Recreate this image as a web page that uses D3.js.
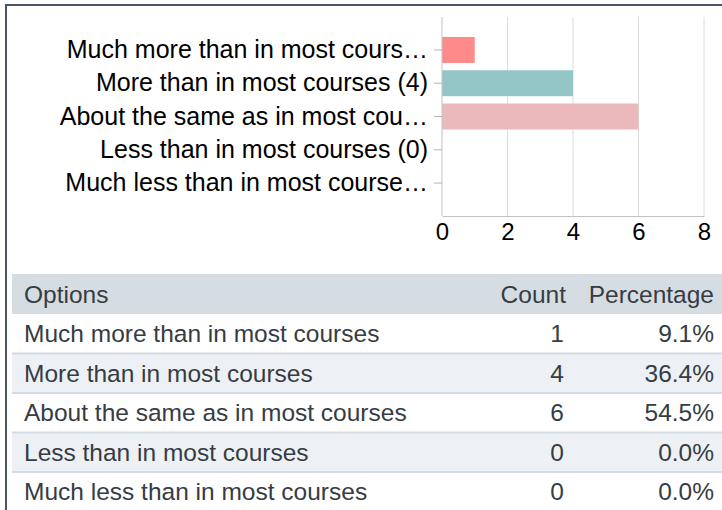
<!DOCTYPE html>
<html>
<head>
<meta charset="utf-8">
<script src="https://cdn.jsdelivr.net/npm/d3@7"></script>
<style>
  html, body { margin: 0; padding: 0; background: #fff; }
  svg { display: block; }
</style>
</head>
<body>
<svg id="chart" width="722" height="510"></svg>
<script>
// Survey responses: options, counts, percentages
const options = [
  "Much more than in most courses",
  "More than in most courses",
  "About the same as in most courses",
  "Less than in most courses",
  "Much less than in most courses"
];
const axisLabels = [
  "Much more than in most cours\u2026",
  "More than in most courses (4)",
  "About the same as in most cou\u2026",
  "Less than in most courses (0)",
  "Much less than in most course\u2026"
];
const counts = [1, 4, 6, 0, 0];
const percentages = ["9.1%", "36.4%", "54.5%", "0.0%", "0.0%"];
const barColors = ["#fe8a8a", "#95c6c7", "#ebb8bc", "#f5c26b", "#a3b8d9"];
const xTicks = [0, 2, 4, 6, 8];
const headers = ["Options", "Count", "Percentage"];

const svg = d3.select("#chart");
const font = "'Liberation Sans', Arial, sans-serif";

// Frame along the top and left edges
svg.append("line").attr("x1", 5).attr("x2", 722).attr("y1", 5).attr("y2", 5)
  .attr("stroke", "#4a5565").attr("stroke-width", 2);
svg.append("line").attr("x1", 6).attr("x2", 6).attr("y1", 4).attr("y2", 510)
  .attr("stroke", "#4a5565").attr("stroke-width", 2);

// Bar chart
const x = d3.scaleLinear().domain([0, 8]).range([442, 704]);
const y = d3.scaleBand().domain(d3.range(options.length)).range([17, 216])
  .paddingInner(0.22).paddingOuter(0.6);

const plotTop = 17, plotBottom = 216;

// vertical gridlines
svg.append("g").selectAll("line").data(xTicks.filter(t => t > 0)).join("line")
  .attr("x1", d => x(d)).attr("x2", d => x(d))
  .attr("y1", plotTop).attr("y2", plotBottom)
  .attr("stroke", "#dcdcdc").attr("stroke-width", 1);

// bars
svg.append("g").selectAll("rect").data(counts).join("rect")
  .attr("x", x(0))
  .attr("y", (d, i) => y(i))
  .attr("width", d => x(d) - x(0))
  .attr("height", y.bandwidth())
  .attr("fill", (d, i) => barColors[i]);

// category axis
const yAxis = d3.axisLeft(y).tickSize(8).tickPadding(6).tickFormat(i => axisLabels[i]);
const gy = svg.append("g").attr("transform", `translate(${x(0)},0)`).call(yAxis);
gy.select(".domain").remove();
gy.selectAll(".tick line").attr("stroke", "#b5b5b5");
gy.selectAll(".tick text")
  .attr("font-family", font)
  .attr("font-size", 25).attr("fill", "#000");

// value axis
const xAxis = d3.axisBottom(x).tickValues(xTicks).tickSize(0).tickPadding(7);
const gx = svg.append("g").attr("transform", `translate(0,${plotBottom})`).call(xAxis);
gx.select(".domain").attr("stroke", "#c2c2c2");
gx.selectAll(".tick text")
  .attr("font-family", font)
  .attr("font-size", 24).attr("fill", "#000");

svg.append("line").attr("x1", x(0)).attr("x2", x(0))
  .attr("y1", plotTop).attr("y2", plotBottom)
  .attr("stroke", "#c2c2c2");

// Table
const tableLeft = 12, tableRight = 722;
const headerTop = 274, headerH = 40, rowH = 39.5;
const rowY = d3.scaleBand().domain(d3.range(options.length))
  .range([headerTop + headerH, headerTop + headerH + rowH * options.length]);
const textColor = "#363c43";
const tableFontSize = 24.5;
const colCount = 564, colPct = 714, colOpt = 24;

svg.append("rect").attr("x", tableLeft).attr("y", headerTop)
  .attr("width", tableRight - tableLeft).attr("height", headerH)
  .attr("fill", "#d6dde2");

const headerG = svg.append("g").attr("font-family", font).attr("font-size", tableFontSize)
  .attr("fill", textColor);
headerG.append("text").attr("x", colOpt).attr("y", headerTop + headerH / 2)
  .attr("dy", "0.35em").text(headers[0]);
headerG.append("text").attr("x", colCount + 2).attr("y", headerTop + headerH / 2)
  .attr("dy", "0.35em").attr("text-anchor", "end").text(headers[1]);
headerG.append("text").attr("x", colPct).attr("y", headerTop + headerH / 2)
  .attr("dy", "0.35em").attr("text-anchor", "end").text(headers[2]);

const rows = svg.append("g").selectAll("g").data(options).join("g")
  .attr("transform", (d, i) => `translate(0,${rowY(i)})`);

rows.append("rect").attr("x", tableLeft).attr("width", tableRight - tableLeft)
  .attr("height", rowY.bandwidth())
  .attr("fill", (d, i) => i % 2 ? "#edf1f5" : "#ffffff");
rows.filter((d, i) => i > 0).append("line")
  .attr("x1", tableLeft).attr("x2", tableRight).attr("y1", 0).attr("y2", 0)
  .attr("stroke", "#d3dbe2").attr("stroke-width", 2);

const rowText = rows.append("g").attr("font-family", font).attr("font-size", tableFontSize)
  .attr("fill", textColor);
rowText.append("text").attr("x", colOpt).attr("y", rowY.bandwidth() / 2)
  .attr("dy", "0.35em").text(d => d);
rowText.append("text").attr("x", colCount).attr("y", rowY.bandwidth() / 2)
  .attr("dy", "0.35em").attr("text-anchor", "end").text((d, i) => counts[i]);
rowText.append("text").attr("x", colPct).attr("y", rowY.bandwidth() / 2)
  .attr("dy", "0.35em").attr("text-anchor", "end").text((d, i) => percentages[i]);
</script>
</body>
</html>
